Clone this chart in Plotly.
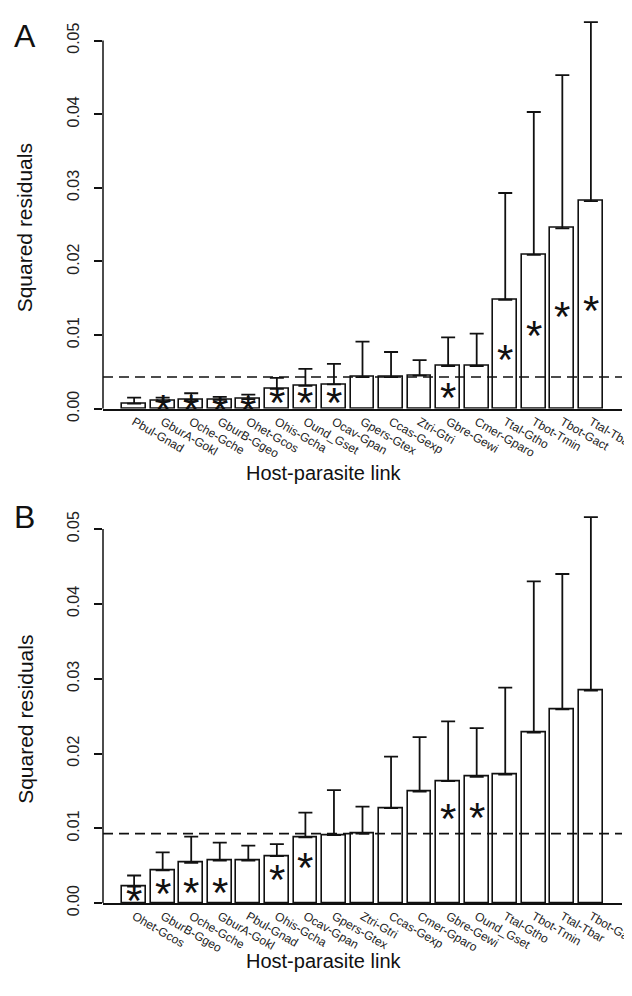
import plotly.graph_objects as go

# ---------------- data ----------------
labels_a = ["Pbul-Gnad", "GburA-Gokl", "Oche-Gche", "GburB-Ggeo", "Ohet-Gcos", "Ohis-Gcha",
            "Ound_Gset", "Ocav-Gpan", "Gpers-Gtex", "Ccas-Gexp", "Ztri-Gtri", "Gbre-Gewi",
            "Cmer-Gparo", "Ttal-Gtho", "Tbot-Tmin", "Tbot-Gact", "Ttal-Tbar"]
values_a = [0.0007, 0.0010, 0.0012, 0.0012, 0.0013, 0.0027, 0.0031, 0.0033, 0.0043, 0.0043,
            0.0045, 0.0058, 0.0058, 0.0148, 0.0209, 0.0245, 0.0282]
upper_a = [0.0015, 0.0015, 0.0021, 0.0016, 0.0019, 0.0042, 0.0054, 0.0061, 0.0091, 0.0077,
           0.0066, 0.0097, 0.0102, 0.0293, 0.0403, 0.0453, 0.0525]
stars_a = [None, 0.0003, 0.0003, 0.0002, 0.0002, 0.0012, 0.0013, 0.0013, None, None, None,
           0.0019, None, 0.0071, 0.0103, 0.0129, 0.0138]
hline_a = 0.0043

labels_b = ["Ohet-Gcos", "GburB-Ggeo", "Oche-Gche", "GburA-Gokl", "Pbul-Gnad", "Ohis-Gcha",
            "Ocav-Gpan", "Gpers-Gtex", "Ztri-Gtri", "Ccas-Gexp", "Cmer-Gparo", "Gbre-Gewi",
            "Ound_Gset", "Ttal-Gtho", "Tbot-Tmin", "Ttal-Tbar", "Tbot-Gact"]
values_b = [0.0022, 0.0044, 0.0054, 0.0057, 0.0057, 0.0063, 0.0088, 0.0091, 0.0093, 0.0127,
            0.0149, 0.0163, 0.0169, 0.0172, 0.0228, 0.0259, 0.0284]
upper_b = [0.0037, 0.0068, 0.0089, 0.0081, 0.0077, 0.0079, 0.0121, 0.0151, 0.0129, 0.0196,
           0.0222, 0.0243, 0.0234, 0.0288, 0.0430, 0.0440, 0.0516]
stars_b = [0.0007, 0.0017, 0.0018, 0.0018, None, 0.0036, 0.0052, None, None, None, None,
           0.0117, 0.0119, None, None, None, None]
hline_b = 0.0093

y_ticks = [0.00, 0.01, 0.02, 0.03, 0.04, 0.05]
y_title = "Squared residuals"
x_title = "Host-parasite link"

# ---------------- figure ----------------
W, H = 632, 996
ML, MR = 95, 13
PW = W - ML - MR
FONT = "Liberation Sans, Arial, Helvetica, sans-serif"
INK = "#111111"

fig = go.Figure()

def bar_pos(n):
    # R barplot default: width 1, space 0.2
    return [0.7 + 1.2 * i for i in range(n)]

def add_panel(labels, values, upper, stars, hline, xa, ya):
    xs = bar_pos(len(values))
    fig.add_trace(go.Bar(
        x=xs, y=values, width=1.0, xaxis=xa, yaxis=ya,
        marker=dict(color="white", line=dict(color=INK, width=1.6)),
        error_y=dict(type="data", symmetric=False,
                     array=[u - v for u, v in zip(upper, values)],
                     arrayminus=[0] * len(values),
                     color=INK, thickness=1.8, width=7),
        showlegend=False, hoverinfo="skip"))
    for x, s in zip(xs, stars):
        if s is None:
            continue
        fig.add_annotation(x=x, y=s, xref=xa, yref=ya, text="*",
                           showarrow=False, yshift=-3,
                           font=dict(family=FONT, size=42, color=INK))
    # dashed reference line
    fig.add_shape(type="line", xref=f"{xa} domain", yref=ya, x0=0, x1=1,
                  y0=hline, y1=hline, layer="above",
                  line=dict(color=INK, width=1.6, dash="10px,6px"))
    # y axis line (only across tick range, like R)
    fig.add_shape(type="line", xref=f"{xa} domain", yref=ya, x0=0, x1=0,
                  y0=y_ticks[0], y1=y_ticks[-1], layer="above",
                  line=dict(color=INK, width=1.5))

add_panel(labels_a, values_a, upper_a, stars_a, hline_a, "x", "y")
add_panel(labels_b, values_b, upper_b, stars_b, hline_b, "x2", "y2")

def px_to_paper(py):
    return (H - py) / H

def px_to_xpaper(px):
    return (px - ML) / PW

# panel A: y=0 at px 406, 0.05 at px 33
a_zero, a_05, a_top = 406, 33, 10
b_zero, b_05, b_top = 907, 528, 504
a_scale = (a_zero - a_05) / 0.05
b_scale = (b_zero - b_05) / 0.05

xr = [-0.608, 21.208]

def xaxis_cfg(labels, anchor):
    return dict(range=xr, anchor=anchor, showline=True, linecolor=INK, linewidth=1.5,
                showgrid=False, zeroline=False, ticks="", tickmode="array",
                tickvals=bar_pos(len(labels)), ticktext=labels, tickangle=30,
                ticklabeloverflow="allow",
                tickfont=dict(family=FONT, size=12, color="#222222"))

def yaxis_cfg(zero_px, top_px, scale, anchor):
    return dict(range=[0, (zero_px - top_px) / scale], anchor=anchor,
                domain=[px_to_paper(zero_px), px_to_paper(top_px)],
                showline=False, showgrid=False, zeroline=False,
                ticks="outside", ticklen=8, tickwidth=1.5, tickcolor=INK,
                tickmode="array", tickvals=y_ticks, ticklabelstandoff=9,
                ticktext=[f"{v:.2f}" for v in y_ticks], tickangle=-90,
                tickfont=dict(family=FONT, size=16, color="#222222"))

fig.update_layout(
    width=W, height=H,
    margin=dict(l=ML, r=MR, t=0, b=0),
    paper_bgcolor="white", plot_bgcolor="white",
    bargap=0,
    xaxis=xaxis_cfg(labels_a, "y"),
    yaxis=yaxis_cfg(a_zero, a_top, a_scale, "x"),
    xaxis2=xaxis_cfg(labels_b, "y2"),
    yaxis2=yaxis_cfg(b_zero, b_top, b_scale, "x2"),
)

# titles and panel letters
for cy in [(a_zero + a_05) / 2 + 3, (b_zero + b_05) / 2 + 3]:
    fig.add_annotation(xref="paper", yref="paper", x=px_to_xpaper(16), y=px_to_paper(cy),
                       text=y_title, textangle=-90, showarrow=False,
                       xanchor="center", yanchor="middle",
                       font=dict(family=FONT, size=21, color=INK))
for cy in [471, 966]:
    fig.add_annotation(xref="paper", yref="paper", x=px_to_xpaper(318), y=px_to_paper(cy),
                       text=x_title, showarrow=False, xanchor="center", yanchor="middle",
                       font=dict(family=FONT, size=20, color=INK))
for letter, cy in [("A", 28), ("B", 516)]:
    fig.add_annotation(xref="paper", yref="paper", x=px_to_xpaper(16), y=px_to_paper(cy),
                       text=letter, showarrow=False, xanchor="center", yanchor="middle",
                       font=dict(family=FONT, size=32, color=INK))

fig.write_html("out.html")
